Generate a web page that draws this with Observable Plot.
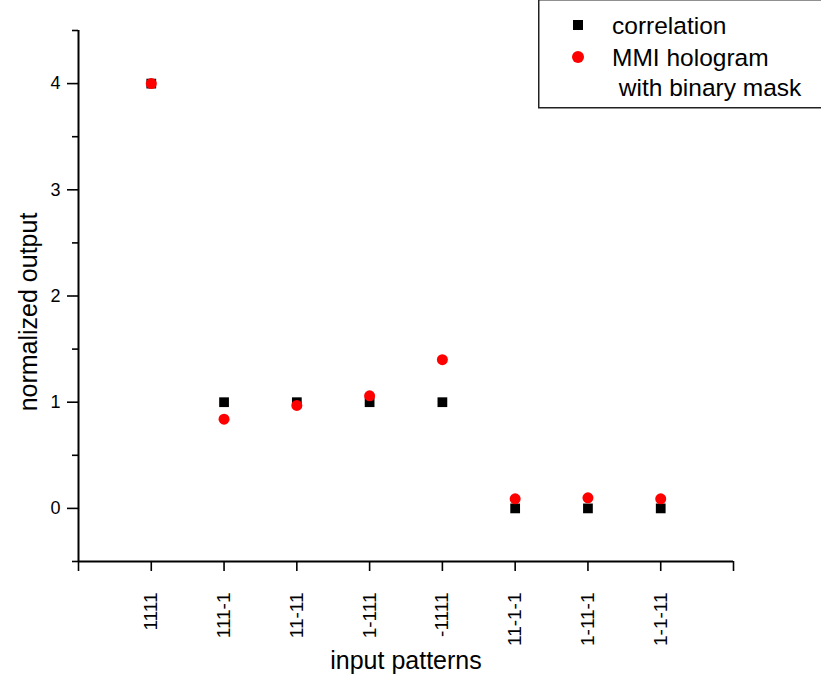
<!DOCTYPE html>
<html>
<head>
<meta charset="utf-8">
<script src="https://cdn.jsdelivr.net/npm/d3@7"></script>
<script src="https://cdn.jsdelivr.net/npm/@observablehq/plot@0.6"></script>
<style>
  html, body { margin: 0; padding: 0; background: white; }
  #wrap { position: relative; width: 821px; height: 677px; overflow: hidden; font-family: "Liberation Sans", Arial, sans-serif; }
  #legend { position: absolute; left: 538px; top: -1px; }
</style>
</head>
<body>
<div id="wrap"></div>
<script>
const patterns = ["1111", "111-1", "11-11", "1-111", "-1111", "11-1-1", "1-11-1", "1-1-11"];
const correlation = [4, 1, 1, 1, 1, 0, 0, 0];
const mmiHologram = [4.0, 0.84, 0.97, 1.06, 1.40, 0.09, 0.10, 0.09];
const yTicks = [0, 1, 2, 3, 4];
const yMinorTicks = [-0.5, 0.5, 1.5, 2.5, 3.5, 4.5];
const xTicks = [0, 1, 2, 3, 4, 5, 6, 7, 8, 9];
const seriesNames = ["correlation", "MMI hologram", " with binary mask"];

const corrData = patterns.map((p, i) => ({x: i + 1, y: correlation[i]}));
const mmiData = patterns.map((p, i) => ({x: i + 1, y: mmiHologram[i]}));

const chart = Plot.plot({
  width: 821,
  height: 677,
  marginLeft: 78,
  marginRight: 88,
  marginTop: 30,
  marginBottom: 116,
  x: {domain: [0, 9]},
  y: {domain: [-0.5, 4.5]},
  style: {fontFamily: "'Liberation Sans', Arial, sans-serif", fontSize: "18px", background: "white", color: "black", overflow: "visible"},
  marks: [
    Plot.axisX({ticks: xTicks, tickFormat: d => patterns[d - 1] ?? "", tickRotate: -90, tickSize: 10, tickPadding: 21, fontSize: 19, strokeWidth: 1.6, label: null}),
    Plot.axisY({ticks: yTicks, tickFormat: d3.format("d"), tickSize: 11, tickPadding: 7, fontSize: 18, strokeWidth: 1.6, label: null}),
    Plot.axisY({ticks: yMinorTicks, tickSize: 6, tickFormat: () => "", strokeWidth: 1.6, label: null}),
    Plot.ruleX([0], {stroke: "black", strokeWidth: 2}),
    Plot.ruleY([-0.5], {stroke: "black", strokeWidth: 2}),
    Plot.dot(corrData, {x: "x", y: "y", symbol: "square", fill: "black", r: 5.5}),
    Plot.dot(mmiData, {x: "x", y: "y", symbol: "circle", fill: "red", r: 5.5}),
    Plot.text(["normalized output"], {frameAnchor: "left", textAnchor: "middle", rotate: -90, dx: -50, dy: 16, fontSize: 25, fill: "black"}),
    Plot.text(["input patterns"], {frameAnchor: "bottom", textAnchor: "middle", lineAnchor: "bottom", dy: 107, fontSize: 25, fill: "black"})
  ]
});
document.getElementById("wrap").appendChild(chart);

// legend
const lg = d3.select("#wrap").append("svg").attr("id", "legend").attr("width", 290).attr("height", 112)
  .style("font-family", "'Liberation Sans', Arial, sans-serif");
lg.append("rect").attr("x", 0.75).attr("y", 0.75).attr("width", 300).attr("height", 108)
  .attr("fill", "white").attr("stroke", "#222").attr("stroke-width", 1.5);
lg.append("rect").attr("x", 35).attr("y", 21).attr("width", 10).attr("height", 10).attr("fill", "black");
lg.append("circle").attr("cx", 40).attr("cy", 58).attr("r", 6).attr("fill", "red");
lg.append("text").attr("x", 74).attr("y", 26).attr("dy", "0.35em").attr("font-size", 24.5).text(seriesNames[0]);
lg.append("text").attr("x", 74).attr("y", 58).attr("dy", "0.35em").attr("font-size", 24.5).text(seriesNames[1]);
lg.append("text").attr("x", 74).attr("y", 88).attr("dy", "0.35em").attr("font-size", 24.5).style("white-space", "pre").text(seriesNames[2]);
</script>
</body>
</html>
